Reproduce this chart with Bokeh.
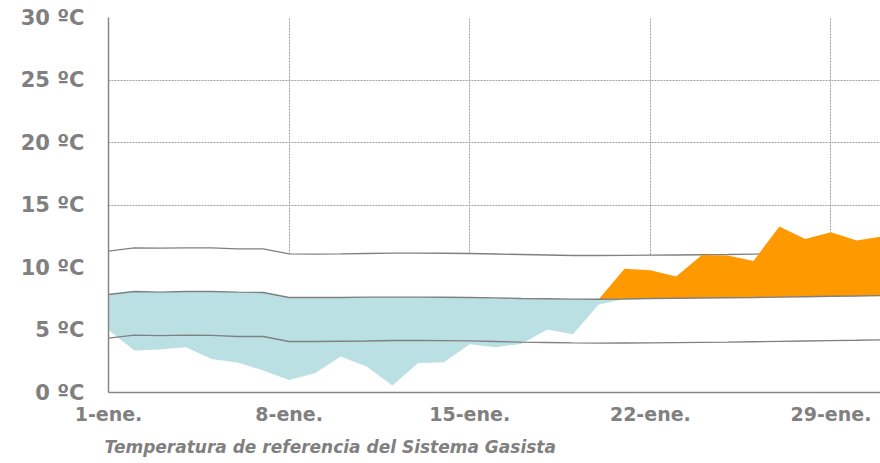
import numpy as np
from bokeh.plotting import figure
from bokeh.models import FixedTicker, Range1d, Title
from bokeh.embed import file_html
from bokeh.resources import INLINE

days = list(range(1, 32))
temp = [5.0, 3.36, 3.44, 3.63, 2.69, 2.4, 1.76, 1.0, 1.55, 2.88, 2.08, 0.56, 2.37, 2.43, 3.87,
        3.63, 3.89, 5.04, 4.67, 7.04, 9.9, 9.78, 9.28, 11.01, 10.96, 10.53, 13.28, 12.29, 12.83,
        12.16, 12.5]
mean = [7.84, 8.08, 8.03, 8.08, 8.08, 8.03, 8.0, 7.6, 7.6, 7.6, 7.63, 7.63, 7.63, 7.62, 7.6,
        7.57, 7.52, 7.5, 7.47, 7.46, 7.48, 7.52, 7.54, 7.56, 7.58, 7.6, 7.63, 7.66, 7.7, 7.72, 7.75]
upper = [11.31, 11.57, 11.55, 11.57, 11.57, 11.49, 11.49, 11.09, 11.07, 11.09, 11.12, 11.15,
         11.15, 11.14, 11.12, 11.08, 11.04, 11.0, 10.96, 10.96, 10.97, 10.99, 11.0, 11.02, 11.04,
         11.07, 11.1, 11.13, 11.17, 11.2, 11.25]
lower = [4.35, 4.59, 4.55, 4.59, 4.57, 4.48, 4.48, 4.08, 4.08, 4.1, 4.12, 4.16, 4.16, 4.15, 4.13,
         4.08, 4.03, 4.0, 3.97, 3.95, 3.96, 3.97, 3.99, 4.01, 4.03, 4.06, 4.09, 4.12, 4.15, 4.18,
         4.22]

x_ticks = [1, 8, 15, 22, 29]
x_labels = ["1-ene.", "8-ene.", "15-ene.", "22-ene.", "29-ene."]
y_ticks = [0, 5, 10, 15, 20, 25, 30]
y_labels = ["0 ºC", "5 ºC", "10 ºC", "15 ºC", "20 ºC", "25 ºC", "30 ºC"]
title_text = "Temperatura de referencia del Sistema Gasista"

GRAY = "#808080"
FONT = "DejaVu Sans"

p = figure(width=880, height=463, output_backend="svg", toolbar_location=None,
           x_range=Range1d(1, 30.92), y_range=Range1d(0, 30),
           min_border_left=108, min_border_right=0, min_border_top=17, min_border_bottom=71)
p.outline_line_color = None
p.background_fill_color = "white"

t = np.array(temp)
m = np.array(mean)
zeros = np.zeros(len(days))

# white cover beneath upper line (hides grid there)
p.varea(x=days, y1=zeros, y2=upper, fill_color="white")
p.line(days, upper, line_color=GRAY, line_width=1.3)
p.varea(x=days, y1=np.minimum(t, m), y2=m, fill_color="#BAE0E3")
p.varea(x=days, y1=m, y2=np.maximum(t, m), fill_color="#FF9900")
p.line(days, mean, line_color=GRAY, line_width=1.3)
p.line(days, lower, line_color=GRAY, line_width=1.3)

p.xaxis.ticker = FixedTicker(ticks=x_ticks)
p.xaxis.major_label_overrides = {k: v for k, v in zip(x_ticks, x_labels)}
p.yaxis.ticker = FixedTicker(ticks=y_ticks)
p.yaxis.major_label_overrides = {k: v for k, v in zip(y_ticks, y_labels)}

for ax in (p.xaxis, p.yaxis):
    ax.axis_line_color = "#868686"
    ax.axis_line_width = 1.5
    ax.major_tick_line_color = None
    ax.minor_tick_line_color = None
    ax.major_label_text_color = GRAY
    ax.major_label_text_font = FONT
    ax.major_label_text_font_style = "bold"
p.xaxis.major_label_text_font_size = "19px"
p.yaxis.major_label_text_font_size = "21px"
p.xaxis.major_label_standoff = 4
p.yaxis.major_label_standoff = 18

p.xgrid.grid_line_color = "#a0a0a0"
p.ygrid.grid_line_color = "#a0a0a0"
p.xgrid.grid_line_dash = "2 1"
p.ygrid.grid_line_dash = "2 1"
p.xgrid.grid_line_width = 1
p.ygrid.grid_line_width = 1

ttl = Title(text=title_text, align="left", text_font=FONT, text_font_style="bold italic",
            text_font_size="17px", text_color=GRAY, offset=-4, standoff=14)
p.add_layout(ttl, "below")

open("out.html", "w").write(file_html(p, INLINE))
